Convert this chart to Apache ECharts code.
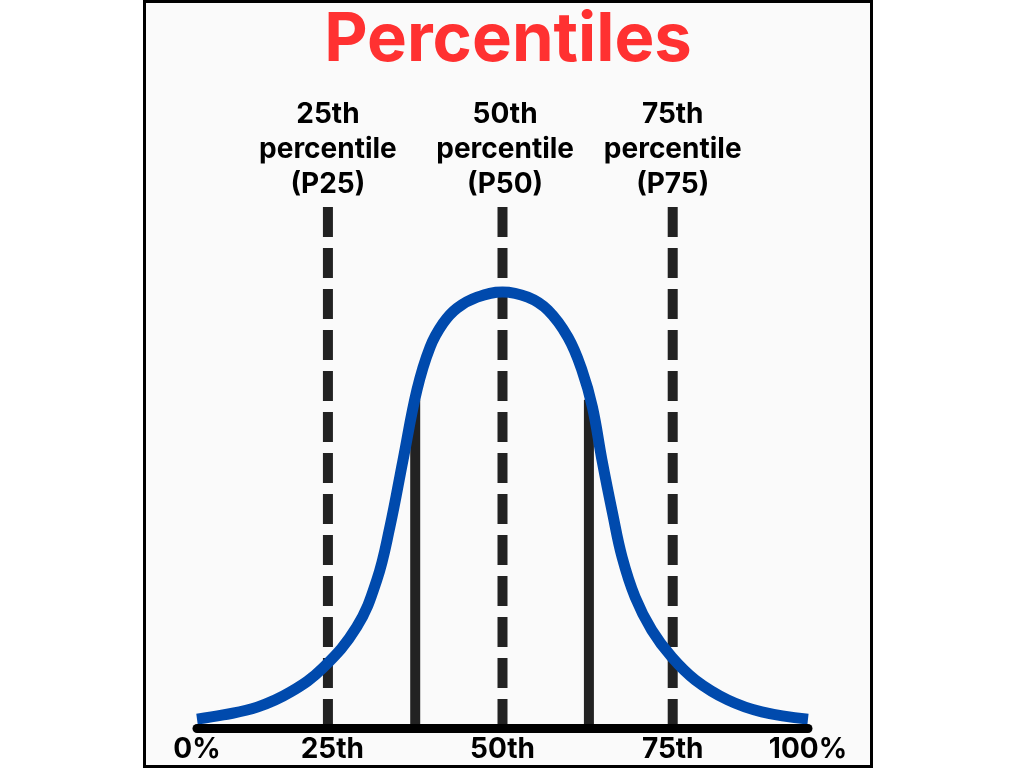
<!DOCTYPE html>
<html>
<head>
<meta charset="utf-8">
<script src="https://cdn.jsdelivr.net/npm/echarts@6/dist/echarts.min.js"></script>
<style>
  html, body { margin: 0; padding: 0; background: #ffffff; }
  #chart { width: 1024px; height: 768px; }
</style>
</head>
<body>
<div id="chart"></div>
<script>
// ---- data ----
const titleText = 'Percentiles';

// bell curve: x in "spread" units, y as height above baseline (0..100 scale)
const curveX = [-3.5, -3.2, -2.81, -2.43, -2.06, -1.67, -1.44, -1.29, -1.14, -0.98, -0.83, -0.68, -0.52, -0.29, 0,
                0.29, 0.52, 0.75, 0.91, 1.03, 1.14, 1.26, 1.37, 1.52, 1.71, 1.94, 2.21, 2.58, 2.97, 3.5];
const curveY = [1.7, 2.5, 4.0, 6.9, 11.5, 19.4, 28.4, 38.6, 51.4, 64.9, 73.1, 77.7, 80.6, 82.7, 83.7,
                82.7, 80.2, 75.0, 68.7, 61.6, 51.4, 41.3, 32.8, 25.1, 18.8, 13.6, 9.2, 5.4, 3.1, 1.7];

// dashed percentile markers
const dashedX = [-2, 0, 1.95];
const dashedTop = [100, 100, 100];
const topLabelX = [-2, 0.03, 1.95];
const topLabels = ['25th\npercentile\n(P25)', '50th\npercentile\n(P50)', '75th\npercentile\n(P75)'];

// solid lines under the curve
const solidX = [-1, 0.99];
const solidTop = [63, 63];

// bottom tick labels
const tickPos = [-3.5, -1.95, 0, 1.95, 3.5];
const tickLabels = ['0%', '25th', '50th', '75th', '100%'];

// ---- build chart ----
const chart = echarts.init(document.getElementById('chart'), null, { renderer: 'canvas' });
const FONT = 'Inter, "Noto Sans", sans-serif';

const series = [];

dashedX.forEach(function (x, i) {
  series.push({
    type: 'line',
    data: [[x, dashedTop[i]], [x, 0]],
    showSymbol: false,
    symbol: 'none',
    silent: true,
    z: 2,
    lineStyle: { color: '#222222', width: 10, type: [30, 11], cap: 'butt' }
  });
});

solidX.forEach(function (x, i) {
  series.push({
    type: 'line',
    data: [[x, solidTop[i]], [x, 0]],
    showSymbol: false,
    symbol: 'none',
    silent: true,
    z: 2,
    lineStyle: { color: '#222222', width: 10, type: 'solid' }
  });
});

series.push({
  type: 'line',
  data: curveX.map(function (x, i) { return [x, curveY[i]]; }),
  smooth: 0.4,
  showSymbol: false,
  symbol: 'none',
  silent: true,
  z: 4,
  lineStyle: { color: '#004aad', width: 11, cap: 'butt' }
});

series.push({
  type: 'scatter',
  data: topLabelX.map(function (x, i) { return [x, dashedTop[i], topLabels[i]]; }),
  symbolSize: 0,
  silent: true,
  z: 5,
  itemStyle: { opacity: 1 },
  label: {
    show: true,
    position: 'top',
    distance: 5,
    formatter: function (p) { return p.data[2]; },
    color: '#000000',
    opacity: 1,
    fontFamily: FONT,
    fontWeight: 'bold',
    fontSize: 28,
    lineHeight: 35,
    align: 'center'
  }
});

chart.setOption({
  animation: false,
  backgroundColor: '#ffffff',
  graphic: [{
    type: 'rect',
    z: -10,
    silent: true,
    shape: { x: 144.5, y: 1.5, width: 727, height: 765 },
    style: { fill: '#fafafa', stroke: '#000000', lineWidth: 3 }
  }],
  title: {
    text: titleText,
    left: 503,
    textAlign: 'center',
    top: 2,
    textStyle: {
      color: '#ff3131',
      fontFamily: FONT,
      fontWeight: 'bold',
      fontSize: 67
    }
  },
  grid: { left: 197, right: 216, top: 207, bottom: 40, containLabel: false },
  xAxis: {
    type: 'value',
    min: -3.5,
    max: 3.5,
    z: 6,
    axisLine: { show: true, lineStyle: { color: '#000000', width: 9 } },
    axisTick: { show: false },
    splitLine: { show: false },
    axisLabel: {
      customValues: tickPos,
      showMinLabel: true,
      showMaxLabel: true,
      hideOverlap: false,
      margin: 8,
      color: '#000000',
      fontFamily: FONT,
      fontWeight: 'bold',
      fontSize: 28,
      formatter: function (v) {
        for (let i = 0; i < tickPos.length; i++) {
          if (Math.abs(tickPos[i] - v) < 1e-6) return tickLabels[i];
        }
        return '';
      }
    }
  },
  yAxis: {
    type: 'value',
    min: 0,
    max: 100,
    show: false,
    splitLine: { show: false }
  },
  series: series
});
</script>
</body>
</html>
